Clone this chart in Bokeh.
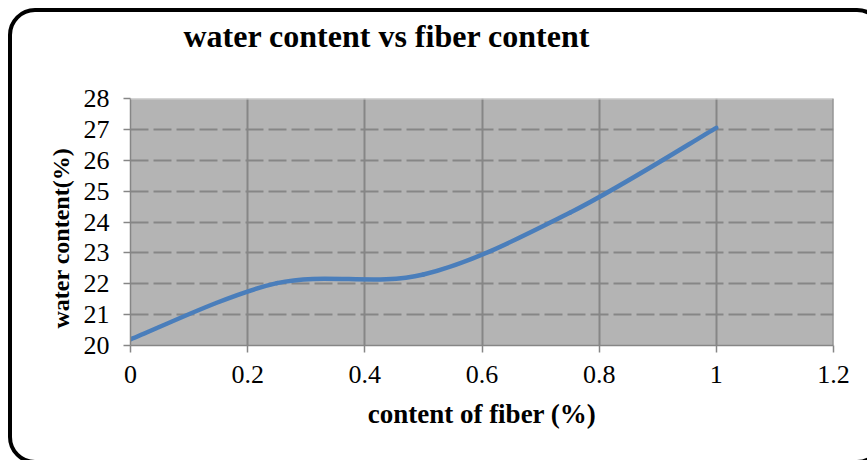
from bokeh.plotting import figure
from bokeh.models import FixedTicker, Span, Title, InlineStyleSheet, LinearAxis
from bokeh.embed import file_html
from bokeh.resources import INLINE

# measured points: fibre content (%) against water content (%)
fiber = [0.0, 0.25, 0.5, 0.75, 1.0]
water = [20.2, 22.02, 22.3, 24.3, 27.05]

x_ticks = [0.0, 0.2, 0.4, 0.6, 0.8, 1.0, 1.2]
x_tick_labels = ["0", "0.2", "0.4", "0.6", "0.8", "1", "1.2"]
y_ticks = [20, 21, 22, 23, 24, 25, 26, 27, 28]

title_text = "water content vs fiber content"
x_title = "content of fiber (%)"
y_title = "water content(%)"

SERIF = "Liberation Serif"
GRID = "#868686"

# rounded black frame drawn round the whole chart
frame_css = InlineStyleSheet(css="""
:host { position: relative; overflow: hidden; }
:host::after {
  content: ""; position: absolute; left: 8px; top: 8px;
  width: 876px; height: 456px; box-sizing: border-box;
  border: 4px solid black; border-radius: 27px;
  pointer-events: none; z-index: 10;
}
""")

p = figure(width=867, height=460, x_range=(0, 1.2), y_range=(20, 28),
           output_backend="svg", toolbar_location=None,
           min_border_left=130, min_border_right=34,
           min_border_top=98, min_border_bottom=115)
p.stylesheets = [frame_css]
p.background_fill_color = "#b4b4b4"
p.border_fill_color = "white"
p.outline_line_color = None

x_axis = p.below[0]
y_axis = p.left[0]

# invisible top axis: one unlabelled, undrawn tick whose length keeps
# a gap between the plot area and the title
gap_tick = [0.6]
gap_axis = LinearAxis(ticker=FixedTicker(ticks=gap_tick), major_tick_out=45,
                      major_tick_in=0, axis_line_color=None,
                      major_tick_line_color=None, minor_tick_line_color=None,
                      major_label_standoff=0, major_label_text_font_size="1px",
                      major_label_overrides={gap_tick[0]: ""})
p.add_layout(gap_axis, "above")

# chart title
p.title.text = title_text
p.title.text_font = SERIF
p.title.text_font_style = "bold"
p.title.text_font_size = "32px"
p.title.text_color = "black"
p.title.align = "left"
p.title.offset = 53
p.title.standoff = 0

# axes
for ax in (x_axis, y_axis):
    ax.axis_line_color = GRID
    ax.axis_line_width = 1.5
    ax.major_tick_line_color = GRID
    ax.major_tick_line_width = 1.5
    ax.major_tick_out = 7
    ax.major_tick_in = 0
    ax.minor_tick_line_color = None
    ax.major_label_text_font = SERIF
    ax.major_label_text_font_size = "26px"
    ax.major_label_text_color = "black"

x_axis.ticker = FixedTicker(ticks=x_ticks)
x_axis.major_label_overrides = dict(zip(x_ticks, x_tick_labels))
x_axis.major_label_standoff = 13
x_axis.axis_label = x_title
x_axis.axis_label_text_font = SERIF
x_axis.axis_label_text_font_style = "bold"
x_axis.axis_label_text_font_size = "27px"
x_axis.axis_label_text_color = "black"
x_axis.axis_label_standoff = 13

y_axis.ticker = FixedTicker(ticks=y_ticks)
y_axis.major_label_standoff = 14

# vertical axis title, set a little below the plot's middle
p.add_layout(Title(text=y_title, text_font=SERIF, text_font_style="bold",
                   text_font_size="24px", text_color="black",
                   align="left", offset=17, standoff=13), "left")

# grid: solid verticals, dashed horizontals
p.xgrid[0].ticker = FixedTicker(ticks=x_ticks[1:])
p.xgrid[0].grid_line_color = GRID
p.xgrid[0].grid_line_width = 2
p.ygrid[0].ticker = FixedTicker(ticks=y_ticks[1:-1])
p.ygrid[0].grid_line_color = GRID
p.ygrid[0].grid_line_width = 2
p.ygrid[0].grid_line_dash = "18 5"
p.add_layout(Span(location=y_ticks[-1], dimension="width",
                  line_color="#d2d2d2", line_width=2))
p.add_layout(Span(location=x_ticks[-1], dimension="height",
                  line_color=GRID, line_width=2))

# smoothed line: cubic Bezier segments through the points
n = len(fiber)
x0, y0, x1, y1, cx0, cy0, cx1, cy1 = ([] for _ in range(8))
for i in range(n - 1):
    a = max(i - 1, 0)
    d = min(i + 2, n - 1)
    x0.append(fiber[i]); y0.append(water[i])
    x1.append(fiber[i + 1]); y1.append(water[i + 1])
    cx0.append(fiber[i] + (fiber[i + 1] - fiber[a]) / 6)
    cy0.append(water[i] + (water[i + 1] - water[a]) / 6)
    cx1.append(fiber[i + 1] - (fiber[d] - fiber[i]) / 6)
    cy1.append(water[i + 1] - (water[d] - water[i]) / 6)
p.bezier(x0=x0, y0=y0, x1=x1, y1=y1, cx0=cx0, cy0=cy0, cx1=cx1, cy1=cy1,
         line_color="#4a7ebb", line_width=4.5, line_cap="round")

open("out.html", "w").write(file_html(p, INLINE))
